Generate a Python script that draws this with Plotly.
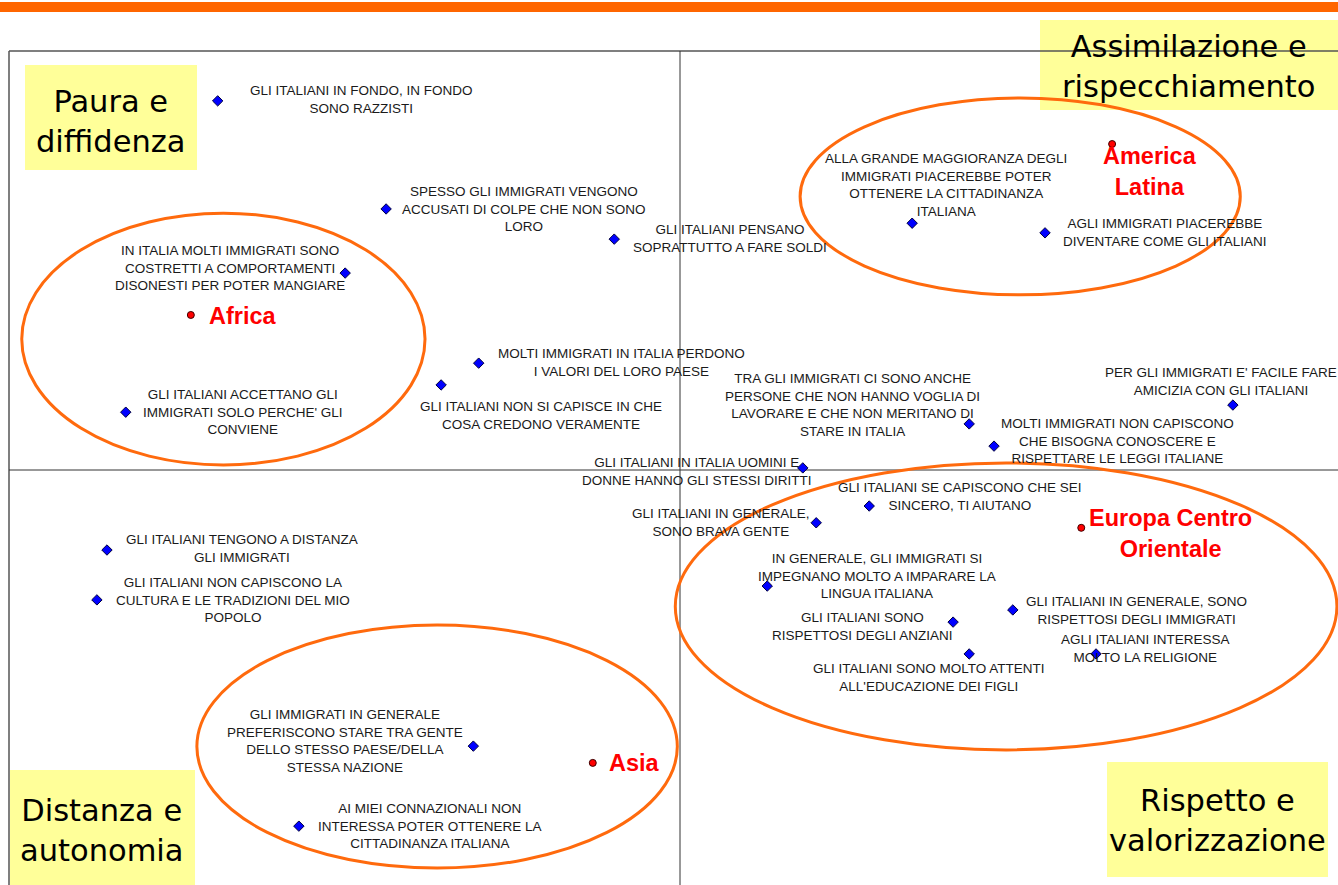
import plotly.graph_objects as go

# --- Dati: coordinate fattoriali (asse 1 orizzontale, asse 2 verticale) ---
affermazioni = [
    "GLI ITALIANI IN FONDO, IN FONDO<br>SONO RAZZISTI",
    "SPESSO GLI IMMIGRATI VENGONO<br>ACCUSATI DI COLPE CHE NON SONO<br>LORO",
    "GLI ITALIANI PENSANO<br>SOPRATTUTTO A FARE SOLDI",
    "IN ITALIA MOLTI IMMIGRATI SONO<br>COSTRETTI A COMPORTAMENTI<br>DISONESTI PER POTER MANGIARE",
    "MOLTI IMMIGRATI IN ITALIA PERDONO<br>I VALORI DEL LORO PAESE",
    "GLI ITALIANI NON SI CAPISCE IN CHE<br>COSA CREDONO VERAMENTE",
    "GLI ITALIANI ACCETTANO GLI<br>IMMIGRATI SOLO PERCHE' GLI<br>CONVIENE",
    "TRA GLI IMMIGRATI CI SONO ANCHE<br>PERSONE CHE NON HANNO VOGLIA DI<br>LAVORARE E CHE NON MERITANO DI<br>STARE IN ITALIA",
    "MOLTI IMMIGRATI NON CAPISCONO<br>CHE BISOGNA CONOSCERE E<br>RISPETTARE LE LEGGI ITALIANE",
    "PER GLI IMMIGRATI E' FACILE FARE<br>AMICIZIA CON GLI ITALIANI",
    "GLI ITALIANI IN ITALIA UOMINI E<br>DONNE HANNO GLI STESSI DIRITTI",
    "GLI ITALIANI SE CAPISCONO CHE SEI<br>SINCERO, TI AIUTANO",
    "GLI ITALIANI IN GENERALE,<br>SONO BRAVA GENTE",
    "IN GENERALE, GLI IMMIGRATI SI<br>IMPEGNANO MOLTO A IMPARARE LA<br>LINGUA ITALIANA",
    "GLI ITALIANI IN GENERALE, SONO<br>RISPETTOSI DEGLI IMMIGRATI",
    "GLI ITALIANI SONO<br>RISPETTOSI DEGLI ANZIANI",
    "AGLI ITALIANI INTERESSA<br>MOLTO LA RELIGIONE",
    "GLI ITALIANI SONO MOLTO ATTENTI<br>ALL'EDUCAZIONE DEI FIGLI",
    "GLI ITALIANI TENGONO A DISTANZA<br>GLI IMMIGRATI",
    "GLI ITALIANI NON CAPISCONO LA<br>CULTURA E LE TRADIZIONI DEL MIO<br>POPOLO",
    "ALLA GRANDE MAGGIORANZA DEGLI<br>IMMIGRATI PIACEREBBE POTER<br>OTTENERE LA CITTADINANZA<br>ITALIANA",
    "AGLI IMMIGRATI PIACEREBBE<br>DIVENTARE COME GLI ITALIANI",
    "GLI IMMIGRATI IN GENERALE<br>PREFERISCONO STARE TRA GENTE<br>DELLO STESSO PAESE/DELLA<br>STESSA NAZIONE",
    "AI MIEI CONNAZIONALI NON<br>INTERESSA POTER OTTENERE LA<br>CITTADINANZA ITALIANA",
]
aff_x = [-0.689, -0.438, -0.098, -0.499, -0.300, -0.356, -0.826, 0.431, 0.468, 0.824,
         0.183, 0.282, 0.203, 0.130, 0.496, 0.407, 0.620, 0.431, -0.854, -0.869,
         0.346, 0.544, -0.308, -0.568]
aff_y = [0.881, 0.623, 0.551, 0.470, 0.255, 0.203, 0.138, 0.110, 0.057, 0.155,
         0.005, -0.086, -0.126, -0.277, -0.334, -0.363, -0.439, -0.439, -0.191, -0.310,
         0.589, 0.566, -0.659, -0.850]

aree = ["Africa", "America<br>Latina", "Europa Centro<br>Orientale", "Asia"]
aree_x = [-0.729, 0.644, 0.598, -0.130]
aree_y = [0.370, 0.778, -0.138, -0.699]

# estensione dei gruppi (ellissi): x0, x1, y0, y1
gruppi_x0 = [-0.981, 0.179, -0.007, -0.720]
gruppi_x1 = [-0.380, 0.835, 0.979, -0.004]
gruppi_y0 = [0.012, 0.418, -0.668, -0.950]
gruppi_y1 = [0.613, 0.888, 0.017, -0.370]

quadranti = ["Paura e<br>diffidenza", "Assimilazione e<br>rispecchiamento",
             "Distanza e<br>autonomia", "Rispetto e<br>valorizzazione"]

# --- Layout: spostamenti delle etichette in pixel (dx, dy verso l'alto) ---
off_aff = [(144, 1.5), (138, 0), (116, 0.5), (-115, 5.5), (143, 0.5), (100, -30.5),
           (117, 0), (-117, 18.5), (123, 5), (-12, 23.5), (-106, -4), (91, 10),
           (-95, 0.5), (110, 10), (124, -0.5), (-91, -4), (49, 5.5), (-40, -23.5),
           (135, 1.5), (136, 0), (34, 38.5), (120, 0.5), (-128, 5.5), (131, 0.5)]
off_aree = [(16, -1, "left"), (38, -27, "center"), (89, -6, "center"), (14, 0, "left")]

W, H = 1338, 885
X_RANGE = [(0 - 680) / 671, (W - 680) / 671]
Y_RANGE = [(470 - H) / 419, (470 - 0) / 419]

ORANGE = "#FF6A0D"
GIALLO = "#FFFF99"

fig = go.Figure()

fig.add_trace(go.Scatter(
    x=aff_x, y=aff_y, mode="markers", hoverinfo="skip",
    marker=dict(symbol="diamond", size=8, color="#0000FF",
                line=dict(color="#000040", width=1)),
))
fig.add_trace(go.Scatter(
    x=aree_x, y=aree_y, mode="markers", hoverinfo="skip",
    marker=dict(symbol="circle", size=7, color="#FF0000",
                line=dict(color="#400000", width=1)),
))

shapes = []
# cornice e assi centrali
linea = dict(color="#333333", width=1)
shapes.append(dict(type="line", x0=-1, x1=-1, y0=Y_RANGE[0], y1=1, line=dict(color="#555555", width=1.5), layer="below"))
shapes.append(dict(type="line", x0=-1, x1=X_RANGE[1], y0=1, y1=1, line=dict(color="#555555", width=1.5), layer="below"))
shapes.append(dict(type="line", x0=0, x1=0, y0=Y_RANGE[0], y1=1, line=linea, layer="below"))
shapes.append(dict(type="line", x0=-1, x1=X_RANGE[1], y0=0, y1=0, line=linea, layer="below"))

# riquadri gialli (pixel -> paper)
riquadri = [(25, 65, 197, 170), (1040, 20, 1338, 110), (10, 770, 195, 885), (1107, 762, 1328, 877)]
centri = [(110, 122), (1189, 66), (102, 830), (1217, 820)]
for (l, t, r, b) in riquadri:
    shapes.append(dict(type="rect", xref="paper", yref="paper",
                       x0=l / W, x1=r / W, y0=1 - b / H, y1=1 - t / H,
                       fillcolor=GIALLO, line=dict(width=0), layer="below"))

# ellissi dei gruppi
for i in range(len(gruppi_x0)):
    shapes.append(dict(type="circle", x0=gruppi_x0[i], x1=gruppi_x1[i],
                       y0=gruppi_y0[i], y1=gruppi_y1[i],
                       line=dict(color=ORANGE, width=3), layer="below"))

# barra arancione in alto
shapes.append(dict(type="rect", xref="paper", yref="paper", x0=0, x1=1,
                   y0=1 - 12 / H, y1=1 - 2 / H, fillcolor="#FF6600",
                   line=dict(width=0), layer="above"))

annotations = []
for txt, x, y, (dx, dy) in zip(affermazioni, aff_x, aff_y, off_aff):
    annotations.append(dict(x=x, y=y, text=txt, showarrow=False, xshift=dx, yshift=dy,
                            xanchor="center", yanchor="middle", align="center",
                            font=dict(family="Liberation Sans, Arial", size=13.5, color="#1a1a1a")))
for txt, x, y, (dx, dy, anc) in zip(aree, aree_x, aree_y, off_aree):
    annotations.append(dict(x=x, y=y, text="<b>" + txt + "</b>", showarrow=False,
                            xshift=dx, yshift=dy, xanchor=anc, yanchor="middle", align="center",
                            font=dict(family="Liberation Sans, Arial", size=23.5, color="#FF0000")))
for txt, (cx, cy) in zip(quadranti, centri):
    annotations.append(dict(x=cx / W, y=1 - cy / H, xref="paper", yref="paper", text=txt,
                            showarrow=False, xanchor="center", yanchor="middle", align="center",
                            font=dict(family="DejaVu Sans", size=30.5, color="#000000")))

fig.update_layout(
    width=W, height=H,
    margin=dict(l=0, r=0, t=0, b=0),
    paper_bgcolor="white", plot_bgcolor="white",
    showlegend=False,
    xaxis=dict(range=X_RANGE, visible=False, fixedrange=True),
    yaxis=dict(range=Y_RANGE, visible=False, fixedrange=True),
    shapes=shapes,
    annotations=annotations,
)

# la pagina ha un margine di 8px di default: lo togliamo
fig.write_html("out.html", config={"displayModeBar": False},
               post_script="document.body.style.margin='0';document.body.style.overflow='hidden';")
